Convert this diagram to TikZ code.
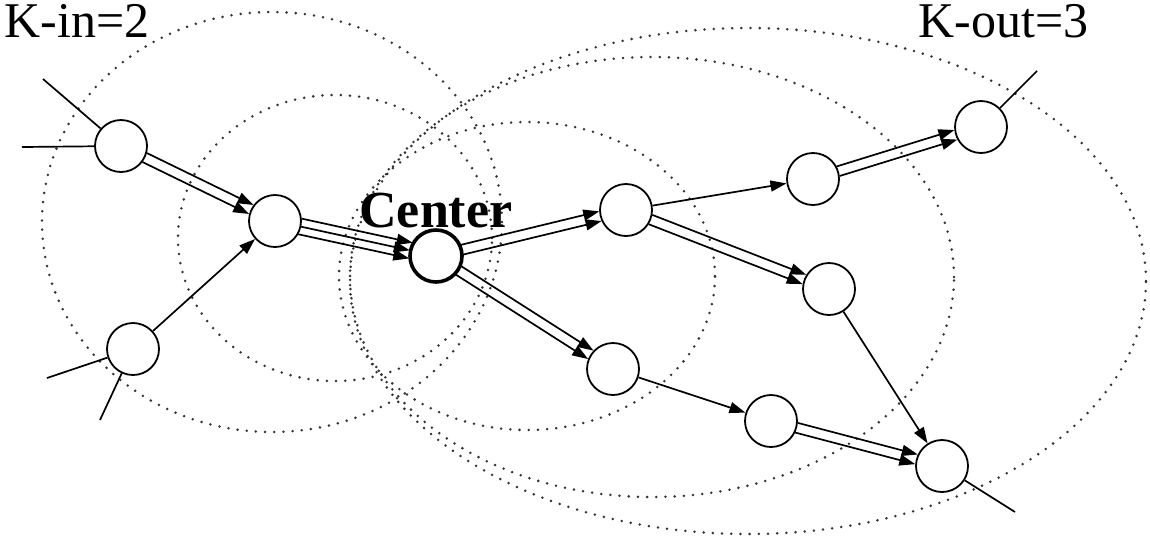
\documentclass[tikz,border=0pt]{standalone}
\usepackage{fontspec}
\setmainfont{Liberation Serif}
\usetikzlibrary{calc,arrows.meta}
\tikzset{
  vtx/.style={circle,draw,line width=0.9pt,minimum size=26pt,inner sep=0pt},
  ctr/.style={vtx,line width=1.8pt},
  dots/.style={draw=black!80,line width=1.4pt,line cap=round,dash pattern=on 0pt off 4.6pt},
  ln/.style={line width=0.85pt},
  arr/.style={ln,-{Triangle[length=8pt,width=5.5pt]}},
  lbl/.style={font=\fontsize{25pt}{27pt}\selectfont,inner sep=0pt,anchor=base west},
}
% parallel arrow from #1 to #2 with perpendicular offset #3 (pt)
\newcommand\parrow[3]{%
  \draw[arr] ($(#1)!{sqrt(13.4*13.4-(#3)*(#3))*1pt}!(#2)!{(#3)*1pt}!90:(#2)$) --
             ($(#2)!{sqrt(13.4*13.4-(#3)*(#3))*1pt}!(#1)!{(#3)*1pt}!-90:(#1)$);}
\begin{document}
\begin{tikzpicture}[x=0.5pt,y=-0.5pt]
\useasboundingbox (0,0) rectangle (1150,538);
% dotted neighbourhoods
\draw[dots] (272,222) ellipse [x radius=115pt, y radius=105pt];
\draw[dots] (335,238) ellipse [x radius=78.5pt, y radius=71.5pt];
\draw[dots] (527,276) ellipse [x radius=94pt, y radius=77pt];
\draw[dots] (652,277) ellipse [x radius=151pt, y radius=110pt];
\draw[dots] (748,281) ellipse [x radius=199pt, y radius=126.5pt];
% nodes
\node[vtx] (A) at (121,146) {};
\node[vtx] (B) at (133,349) {};
\node[vtx] (C) at (275,221) {};
\node[ctr] (X) at (436,256) {};
\node[vtx] (D) at (626,210) {};
\node[vtx] (E) at (813,179) {};
\node[vtx] (F) at (981,127) {};
\node[vtx] (G) at (829,289) {};
\node[vtx] (H) at (613,369) {};
\node[vtx] (I) at (771,421) {};
\node[vtx] (J) at (942,466) {};
% labels
\node[lbl] (kin) at (4,37) {K-in=2};
\node[lbl] (kout) at (918,37) {K-out=3};
\node[lbl,font=\fontsize{26pt}{28pt}\selectfont\bfseries] (cl) at (359,227) {Center};
% stubs
\coordinate (a1) at (43,79);
\coordinate (a2) at (22,147);
\coordinate (b1) at (47,378);
\coordinate (b2) at (100,420);
\coordinate (f1) at (1037,71);
\coordinate (j1) at (1015,512);
\draw[ln] (a1) -- (A);
\draw[ln] (a2) -- (A);
\draw[ln] (b1) -- (B);
\draw[ln] (b2) -- (B);
\draw[ln] (F) -- (f1);
\draw[ln] (J) -- (j1);
% single arrows
\draw[arr] (B) -- (C);
\draw[arr] (D) -- (E);
\draw[arr] (G) -- (J);
\draw[arr] (H) -- (I);
% double arrows
\parrow{A}{C}{2.5}\parrow{A}{C}{-2.5}
\parrow{X}{D}{2.5}\parrow{X}{D}{-2.5}
\parrow{X}{H}{2.5}\parrow{X}{H}{-2.5}
\parrow{E}{F}{2.5}\parrow{E}{F}{-2.5}
\parrow{D}{G}{2.5}\parrow{D}{G}{-2.5}
\parrow{I}{J}{2.5}\parrow{I}{J}{-2.5}
% triple arrow
\parrow{C}{X}{4}\parrow{C}{X}{0}\parrow{C}{X}{-4}
\end{tikzpicture}
\end{document}
